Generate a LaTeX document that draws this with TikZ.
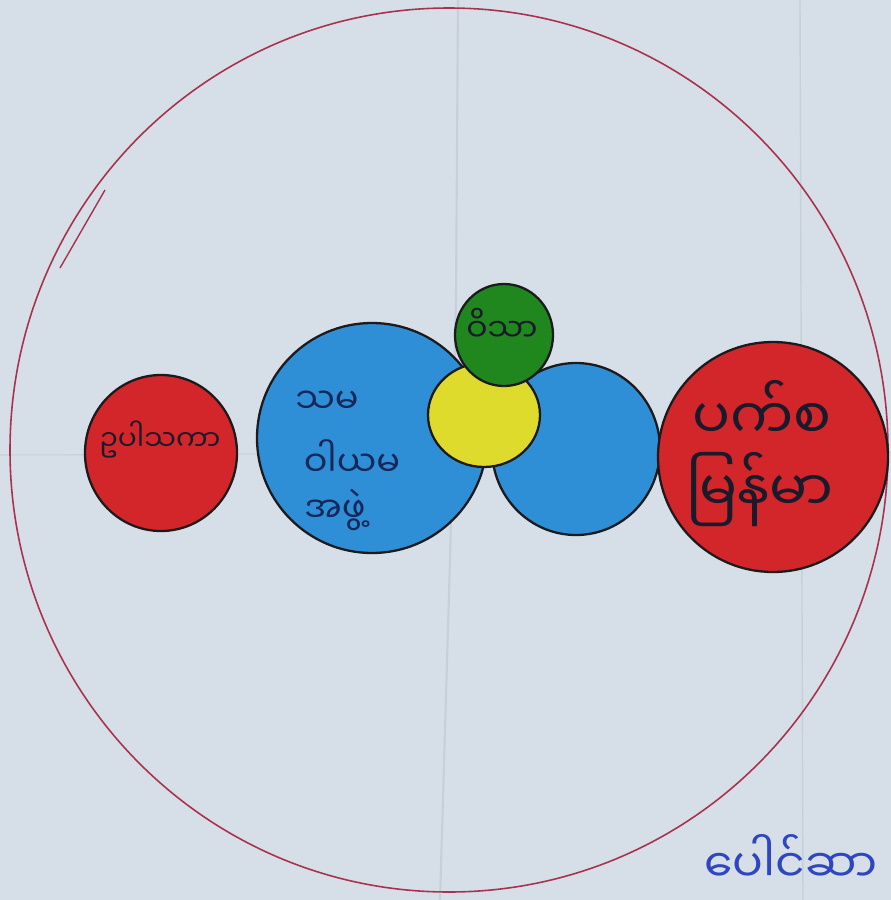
\documentclass[tikz,border=0pt]{standalone}
\usepackage{fontspec}
\newfontfamily\mmfont[Script=Myanmar]{Noto Sans Myanmar UI}
\definecolor{paper}{HTML}{D6DFE7}
\definecolor{fold}{HTML}{C6D0DA}
\definecolor{ring}{HTML}{A8324E}
\definecolor{redfill}{HTML}{D3262A}
\definecolor{bluefill}{HTML}{2F8FD6}
\definecolor{yellowfill}{HTML}{DEDB2C}
\definecolor{greenfill}{HTML}{20871F}
\definecolor{edge}{HTML}{1C1A1C}
\definecolor{ink}{HTML}{1A1A2A}
\definecolor{navy}{HTML}{14285A}
\definecolor{pen}{HTML}{2E46C0}
\tikzset{
  disc/.style={draw=edge, line width=1.3pt},
  handtext/.style={inner sep=1pt, anchor=center},
  sz16/.style={font=\mmfont\fontsize{16}{20}\selectfont},
  sz18/.style={font=\mmfont\fontsize{18}{22}\selectfont},
  sz20/.style={font=\mmfont\fontsize{20}{24}\selectfont},
  sz26/.style={font=\mmfont\fontsize{26}{30}\selectfont},
  sz32/.style={font=\mmfont\fontsize{32}{36}\selectfont},
}
\begin{document}
\begin{tikzpicture}[x=0.02cm,y=-0.02cm]
\useasboundingbox (0,0) rectangle (891,900);
\fill[paper] (0,0) rectangle (891,900);
% paper folds
\draw[fold, line width=1.2pt] (458,0) -- (456,300) -- (450,560) -- (440,900);
\draw[fold, line width=0.8pt] (800,0) -- (803,900);
\draw[fold, line width=0.6pt] (0,455) -- (891,452);
% big outer circle
\draw[ring, line width=0.9pt] (449,450) ellipse [x radius=439, y radius=442];
\draw[ring, line width=0.8pt] (105,190) -- (60,268);
% discs
\fill[redfill] (161,453) ellipse [x radius=76, y radius=78];
\draw[disc] (161,453) ellipse [x radius=76, y radius=78];
\fill[bluefill] (372,438) circle [radius=115];
\draw[disc] (372,438) circle [radius=115];
\fill[bluefill] (576,449) ellipse [x radius=84, y radius=86];
\draw[disc] (576,449) ellipse [x radius=84, y radius=86];
\fill[yellowfill] (484,415) ellipse [x radius=56, y radius=52];
\draw[disc] (484,415) ellipse [x radius=56, y radius=52];
\fill[greenfill] (504,335) ellipse [x radius=49, y radius=51];
\draw[disc] (504,335) ellipse [x radius=49, y radius=51];
\fill[redfill] (773,457) circle [radius=115];
\draw[disc] (773,457) circle [radius=115];
% texts
\node[handtext, sz16, text=ink] (t1) at (160,440) {ဥပါသကာ};
\node[handtext, sz20, text=navy] (t2) at (327,402) {သမ};
\node[handtext, sz20, text=navy] (t3) at (352,458) {ဝါယမ};
\node[handtext, sz20, text=navy] (t4) at (335,510) {အဖွဲ့};
\node[handtext, sz18, text=ink] (t5) at (502,325) {ဝိသာ};
\node[handtext, sz32, text=ink] (t6) at (762,410) {ပက်စ};
\node[handtext, sz32, text=ink] (t7) at (760,490) {မြန်မာ};
\node[handtext, sz26, anchor=south east, text=pen] (t8) at (880,885) {ပေါင်ဆာ};
\end{tikzpicture}
\end{document}
